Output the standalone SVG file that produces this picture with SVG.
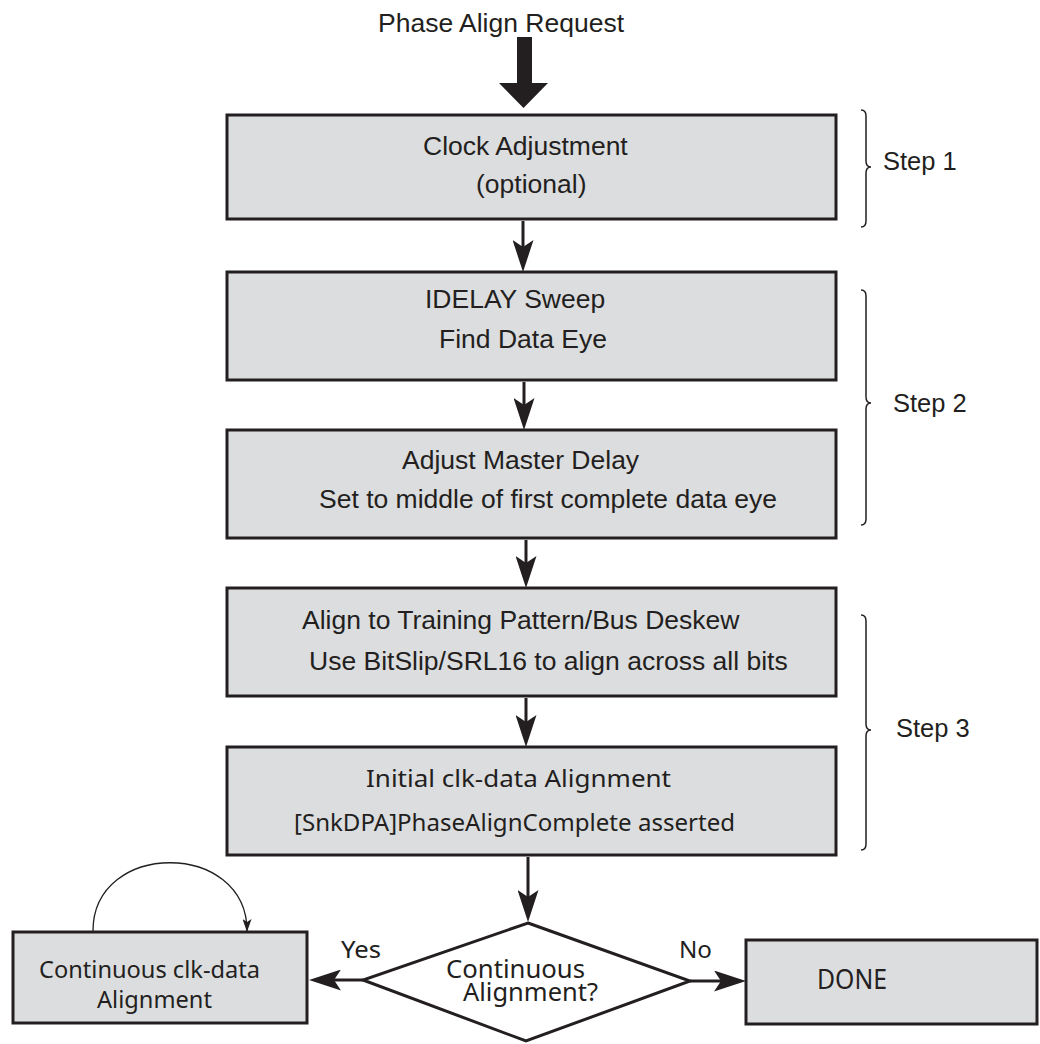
<svg xmlns="http://www.w3.org/2000/svg" width="1040" height="1044" viewBox="0 0 1040 1044">
<style>
.box{fill:#dcdddf;stroke:#231f20;stroke-width:3}
.dia{fill:#ffffff;stroke:#231f20;stroke-width:3}
.h{font-family:"Liberation Sans",Arial,sans-serif;font-size:26.5px;fill:#231f20}
.s{font-family:"Liberation Sans",Arial,sans-serif;font-size:25.5px;fill:#231f20}
.m{font-family:"Noto Sans","Open Sans",sans-serif;font-size:24px;fill:#231f20}
.ln{stroke:#231f20;stroke-width:3;fill:none}
.br{stroke:#231f20;stroke-width:1.5;fill:none}
</style>
<defs>
<marker id="arr" markerWidth="32" markerHeight="21" refX="8" refY="10.5" orient="auto" markerUnits="userSpaceOnUse" viewBox="0 0 32 21">
<path d="M0,0 L32,10.5 L0,21 L7,10.5 Z" fill="#231f20"/>
</marker>
<marker id="arrs" markerWidth="13" markerHeight="9" refX="12" refY="4.5" orient="auto" markerUnits="userSpaceOnUse" viewBox="0 0 13 9">
<path d="M0,0 L13,4.5 L0,9 L3,4.5 Z" fill="#231f20"/>
</marker>
</defs>
<g id="request">
<text class="h" x="378" y="32">Phase Align Request</text>
<path d="M517,37 L532,37 L532,83 L548,83 L523.5,108 L499,83 L517,83 Z" fill="#231f20"/>
</g>
<g id="node-clock">
<rect class="box" x="227" y="115" width="609" height="104"/>
<text class="h" x="423" y="155">Clock Adjustment</text>
<text class="h" x="476" y="193">(optional)</text>
</g>
<g id="node-idelay">
<rect class="box" x="227" y="272" width="609" height="108"/>
<text class="h" x="425" y="308">IDELAY Sweep</text>
<text class="h" x="439" y="348">Find Data Eye</text>
</g>
<g id="node-master">
<rect class="box" x="227" y="430" width="609" height="108"/>
<text class="h" x="402" y="469">Adjust Master Delay</text>
<text class="h" x="319" y="508">Set to middle of first complete data eye</text>
</g>
<g id="node-training">
<rect class="box" x="227" y="588" width="609" height="108"/>
<text class="h" x="302" y="629">Align to Training Pattern/Bus Deskew</text>
<text class="h" x="309" y="670">Use BitSlip/SRL16 to align across all bits</text>
</g>
<g id="node-initial">
<rect class="box" x="227" y="747" width="609" height="108"/>
<text class="m" x="366" y="787" textLength="305" lengthAdjust="spacingAndGlyphs">Initial clk-data Alignment</text>
<text class="m" x="294" y="831" textLength="441" lengthAdjust="spacingAndGlyphs">[SnkDPA]PhaseAlignComplete asserted</text>
</g>
<g id="node-decision">
<polygon class="dia" points="528,923 690,981 526,1041 363,980"/>
<text class="m" x="446" y="978" textLength="139" lengthAdjust="spacingAndGlyphs" style="font-size:25px">Continuous</text>
<text class="m" x="463" y="1001" textLength="135" lengthAdjust="spacingAndGlyphs" style="font-size:25px">Alignment?</text>
</g>
<g id="node-continuous">
<rect class="box" x="13" y="932" width="294" height="91"/>
<text class="m" x="39" y="978" textLength="221" lengthAdjust="spacingAndGlyphs" style="font-size:23px">Continuous clk-data</text>
<text class="m" x="97" y="1008" textLength="115" lengthAdjust="spacingAndGlyphs" style="font-size:23px">Alignment</text>
</g>
<g id="node-done">
<rect class="box" x="746" y="940" width="291" height="84"/>
<text class="m" x="817" y="989" textLength="70" lengthAdjust="spacingAndGlyphs" style="font-size:27px">DONE</text>
</g>
<g id="steps">
<path class="br" d="M861,110 Q866,110 866,116 L866,161 Q866,167 871,167 Q866,167 866,173 L866,221 Q866,227 861,227"/>
<text class="s" x="883" y="170">Step 1</text>
<path class="br" d="M861,290 Q866,290 866,296 L866,397 Q866,403 871,403 Q866,403 866,409 L866,519 Q866,525 861,525"/>
<text class="s" x="893" y="412">Step 2</text>
<path class="br" d="M861,615 Q866,615 866,621 L866,724 Q866,730 871,730 Q866,730 866,736 L866,844 Q866,850 861,850"/>
<text class="s" x="896" y="737">Step 3</text>
</g>
<g id="connectors">
<path class="ln" d="M523,221 L523,248" marker-end="url(#arr)"/>
<path class="ln" d="M524,382 L524,406" marker-end="url(#arr)"/>
<path class="ln" d="M526,540 L526,564" marker-end="url(#arr)"/>
<path class="ln" d="M526,698 L526,723" marker-end="url(#arr)"/>
<path class="ln" d="M528,857 L528,898" marker-end="url(#arr)"/>
<path class="ln" d="M363,980 L333,980" marker-end="url(#arr)"/>
<path class="ln" d="M690,981 L722,981" marker-end="url(#arr)"/>
<path d="M93,931 C93,840 247,840 247,931" stroke="#231f20" stroke-width="1.3" fill="none" marker-end="url(#arrs)"/>
<text class="m" x="341" y="958" textLength="40" lengthAdjust="spacingAndGlyphs">Yes</text>
<text class="m" x="679" y="958" textLength="33" lengthAdjust="spacingAndGlyphs">No</text>
</g>
</svg>
